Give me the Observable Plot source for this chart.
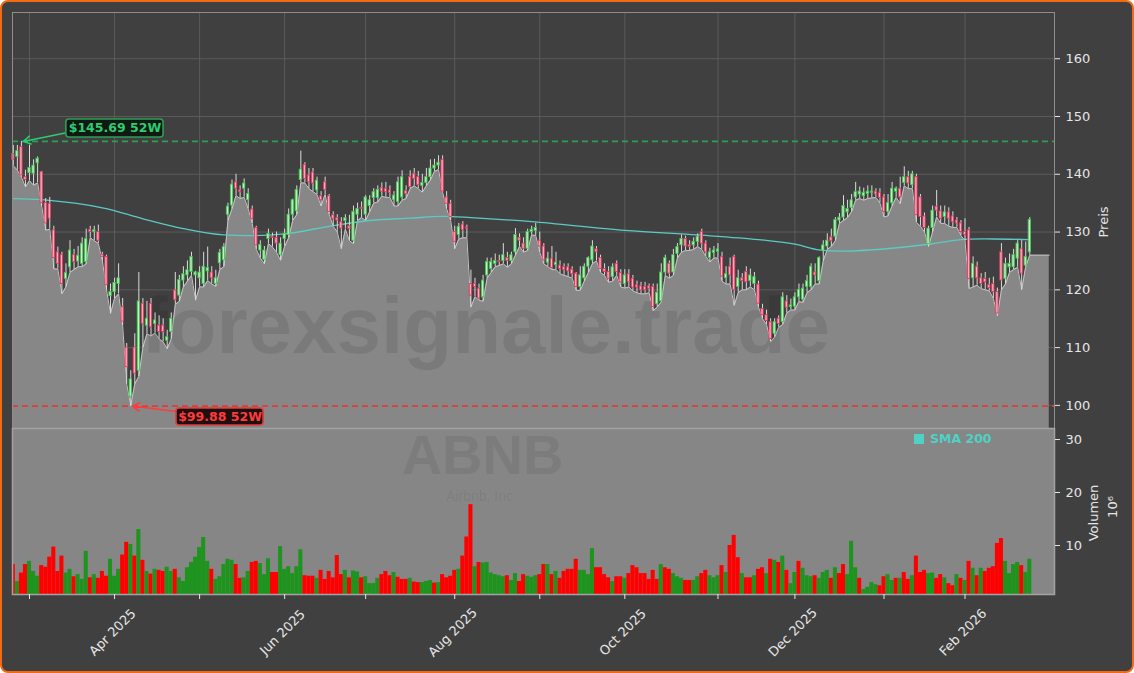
<!DOCTYPE html>
<html><head><meta charset="utf-8">
<script src="https://cdn.jsdelivr.net/npm/d3@7"></script>
<script src="https://cdn.jsdelivr.net/npm/@observablehq/plot@0.6"></script>
<style>
html,body{margin:0;padding:0;background:#ffffff;}
#frame{position:absolute;left:0;top:0;width:1134px;height:673px;box-sizing:border-box;border:2px solid #f26a12;border-radius:8px;background:#404040;}
#price,#volume{position:absolute;left:0;}
#price{top:0;}
#volume{top:428px;}
.lab{position:absolute;color:#e6e6e6;font:13px "DejaVu Sans",sans-serif;white-space:nowrap;transform:translate(-50%,-50%) rotate(-90deg);}
#sma{position:absolute;left:914px;top:431px;color:#4fd1c5;font:bold 12.5px "DejaVu Sans",sans-serif;white-space:nowrap;}
#sma span{display:inline-block;width:10px;height:10px;background:#4fd1c5;margin-right:6px;vertical-align:-1px;}
</style></head><body>
<div id="frame"></div>
<div id="price"></div>
<div id="volume"></div>
<div class="lab" style="left:1103px;top:222px;">Preis</div>
<div class="lab" style="left:1093px;top:513px;">Volumen</div>
<div class="lab" style="left:1112px;top:507px;">10⁶</div>
<div id="sma"><span></span>SMA 200</div>
<script>
// ---- Data (ABNB daily, index 0 = 2025-02-25 ... index 251 = 2026-02-25) ----
const open = [
143.5,143.0,144.7,139.5,140.2,140.1,141.9,140.4,135,134.9,
130.3,126.5,126,121.9,123.9,126,124.9,124.5,124.8,130.4,
130,130,126.1,125.7,118.9,119.6,121,117,110,101.5,
110,106,117.6,113.8,117.6,114.1,113.8,113.8,111.2,112.7,
119.9,119,121.6,122.5,123.1,122.5,122,121,123.2,123,
121,124.6,125.1,133,134.6,138.6,137.2,137.5,135.5,133.9,
130.7,126.8,125.2,128.8,129.2,129,126,128.8,129.5,133,
133.6,139,141.6,139.8,140.3,137.2,136.2,138.6,136.2,132.9,
132.4,131.7,131.9,131,128.5,133,134.2,133,134.5,135.9,
135.9,137.6,137.5,137.2,135.5,135.2,136,137.1,139.5,140.1,
139.5,138,138.5,139.5,141,141.5,142.5,136,134.9,130,
129.5,131.3,130.8,121,121,120.2,118.7,122.5,123.6,124.5,
125,125,125.5,125,126.5,129,128,127.1,130,130.2,
128.5,127.5,124.7,125.4,124.3,124.2,123.9,123.9,123.5,122.8,
120.5,122,124,125.1,127,125.5,123.6,123.1,122.2,124.5,
122.9,121,122.7,121.9,120.8,120.6,120.5,120.6,120.5,117.5,
118,123,124.5,123,126.2,127.7,128.8,127.7,127.7,128.3,
130,128,125.5,126.4,126.6,125.7,122,124,125.7,120.5,
122,123.1,121.5,121,120.9,116.7,115.6,114.4,112.4,115,
114.4,118,117,117.1,118.7,118.3,120.5,120.5,123,121.5,
126.8,127.5,129.1,129.2,132,132.5,133.4,134.2,136,136.5,
136.2,136.6,136.8,137,136.8,136,133.5,135,137,137.5,
138.5,139.5,138.1,139.5,136,132.7,127.9,130.7,134.4,133.6,
132.6,133.4,132.7,132,131.5,130,130.3,122,124,122,
121.9,120.8,121,119.6,126.5,121.9,123.9,123.9,125.4,127.1,
124.2,126.5];
const close = [
142.5,144.0,139.8,139.0,141.1,141.5,142.7,135,131.5,132.3,
125.5,124.5,121,122.9,126.8,124.8,125.9,128,128.8,130,
130.3,128.5,125.7,120.8,119.6,121.2,122,114.5,106.6,104.5,
105.5,118,114.1,115,113.5,114.7,112.7,112.7,111.8,115,
118.2,121.7,122.7,123.4,125.7,123,123,124,123.8,122,
122,126.4,127.4,134.4,138.2,137.5,136.9,138.4,136.6,132.3,
127.7,127.8,126.8,129.7,129,128,128,129.7,133,135.5,
137.3,140.8,139.2,138.6,138.4,138.9,135.5,137.3,133.5,132.3,
132,130.6,132.4,130.5,133.5,134,134,136,135.5,136.9,
137.3,137,136.9,136.8,136.3,138.6,139.5,136.6,137.8,139.2,
138.1,138.5,139.5,141,141.5,142,137,134.9,132.6,128.3,
130.9,130.3,130.6,119,120.5,118.5,121.6,124.8,124.8,125,
124.8,126,125,126,129.5,128.5,127.1,130,130.4,130.7,
127.5,125.1,125.4,123.8,124.7,123.6,123.4,123.2,122.7,120.5,
122.5,124,125.5,127.5,126.5,123.6,123.1,121.9,123.9,123.1,
121.3,122.5,121.3,120.4,120.4,119.9,119.9,120.2,117,119.5,
123,125.5,122.8,126,127.4,128.8,127.5,127.4,128.3,129.2,
128,126.5,126.5,126.8,127,122.3,122.7,122.5,120,122,
121.5,121.3,122.5,122.2,117.6,115.6,114.6,111.5,114.4,114.1,
118.7,116.9,117.3,118.7,120,120.2,121.5,124,122.5,125.5,
127.7,128.5,128.4,132.1,132.5,134.5,134,135.5,136.9,137,
136.8,137,137,136.5,135.9,133.5,135,137.5,137.5,136,
139.5,138.4,140,132.9,132.6,130.7,130.6,133.7,133.7,132.3,
133.4,132.3,131.7,131.5,130,129.5,121.9,124.5,122,121,
121.3,120.3,119.6,115.9,121.6,124.5,124.5,126,128,122.8,
125.7,132.1];
const high = [
145,145,145.69,140.7,145,142.5,143,140.5,135.8,136,
131,127.4,126.5,124.5,128.5,127,127.5,129,130.5,131,
131,131.2,126.5,126,121,122,124.5,118.5,110.7,106,
112.4,123,118.5,118,118.5,116,115.5,115,113,116,
123,122.5,124,125,126.5,123.2,124,126.5,127.4,124,
123.4,127,128,135,139,140,138,139.2,137.5,134.5,
131,128.5,127.5,130.5,129.8,130,129,130.5,134,135.7,
138,144,142,141,141,139.5,137,139.5,136.5,133.5,
133,132.5,133,132.9,134.5,135,135.2,136.3,136.3,137.5,
138,138.5,138.6,138,137,139.5,140.6,138,140.6,141,
140.5,140,141,142.5,142.6,143.2,143.2,137,135.5,131,
131.5,131.8,131.2,123.4,122,121,122.5,125.5,125.5,126.2,
126,128,126.5,126.5,130.6,129.7,129,130.5,131,131.5,
130,128,126.5,127.5,126.5,125,124.5,124.5,124,123,
124,124.5,125.7,128.5,127.5,126,124.5,124,124.5,125,
123.5,123.5,123.5,122.5,121.5,121.3,121.3,121,121,121,
124.5,126,125,127,128,129.5,129.3,128.5,129,129.7,
130.5,128.5,127.2,127.5,128,126.5,124,125.5,126,123.4,
122.8,124,123.6,123,121.5,117.5,116.5,115,115,115.5,
119.5,119,118.4,119.5,121,121,122.5,124.5,124.5,125.7,
128.5,129.7,130.5,132.5,133.2,136.3,135.5,136.5,138.6,137.8,
137.6,138,138,137.5,137.5,136.5,136.5,138.6,137.8,139.5,
141.3,140.5,140.5,140,136.5,133.3,131,134.5,137.2,134.5,
134.5,134.2,133.5,132.5,132,132.3,130.8,125.7,124.8,122.8,
123,122,122.2,120.3,128,125.5,126.2,127,128.5,128.5,
128.3,132.5];
const low = [
141.5,140.7,139.5,137.8,138.9,138.1,138.5,134.5,130.3,130.5,
123.6,123.6,119.3,120.5,123,123.5,124,124,124.5,129,
128.5,128,125,120,115.9,118.5,119.3,113.8,103.7,99.88,
103.7,105,110,112.4,112,112.5,111.5,111,109.8,111.5,
117.5,118,120.5,121.5,122.5,118.2,120.5,120.5,121.6,121,
120.6,123.5,124,132,134,136.3,135.8,136,134,131.5,
127,125.5,124.5,128,127.4,126.5,125.1,127.5,129,132,
133,138.5,138.5,137.5,137,136.5,134.5,136.5,133,131,
130,127.1,130.5,128.5,128,132,132.5,132,133.5,135,
135.2,136.2,136,136,134.5,134.5,135.5,135.8,137.5,138,
137.5,136.9,138,139,140.5,140.8,136.9,134,132,127.1,
128.8,129,129,117,118.8,118.2,118,122,123,124,
124.2,124.5,123.9,124.5,126,127.5,126.5,126.8,129.5,129.4,
126.5,124.5,124,123.5,123.5,122.8,122.5,122.3,122,119.9,
119.9,121.5,123,124.5,125,123,122.5,121.3,121.5,122.5,
120.5,120.3,120.5,119.8,119.5,119.3,119.3,119.5,116.4,117,
117.9,122.5,122,122.5,125.5,126.5,126.8,126.8,127,127.5,
127,125.8,124.8,125.5,125.5,121.5,121,121,117.3,119.5,
120,120,120.5,120,117,115,114,111,111.8,113.5,
114,116,116.5,116.5,118,117.8,119.5,120,121,121,
125,127,127.5,128.5,131.5,132,132.5,133.5,135.5,135.8,
135.5,135.8,135.9,136,135,132.6,132.8,134.5,136,134.9,
138,137.5,137.5,131.7,131,130,127.5,130,132.6,131.5,
131.5,131,130.8,130.8,129.4,128.5,120.2,120.5,120.8,120.2,
120,119.8,118.5,115.5,120,121,123,123.5,123.9,120,
124,126];
// volume in millions
const volume = [
6.4,3.2,4.8,6.4,7.0,5.1,4.2,6.2,5.9,7.8,
9.7,5.1,8.0,4.8,5.5,4.1,4.5,3.6,8.9,3.9,
4.5,3.8,5.1,4.2,7.4,4.2,5.5,8.2,10.6,10.2,
8.0,13.0,7.2,5.1,4.6,5.5,5.3,5.1,5.9,5.1,
5.5,3.9,3.2,5.8,6.8,7.8,9.6,11.5,7.0,5.5,
3.6,4.1,6.4,7.4,7.2,6.4,3.8,3.9,5.1,6.8,
7.0,6.6,4.5,7.5,4.9,4.9,9.8,5.5,6.0,4.7,
6.0,9.2,4.3,4.2,4.2,3.8,5.3,3.6,5.1,3.9,
8.1,4.5,5.3,3.9,5.2,5.0,3.9,4.1,2.8,2.8,
3.8,4.5,5.1,4.3,4.9,4.0,3.6,3.6,3.8,3.1,
3.0,3.0,3.2,3.4,2.9,3.0,4.5,3.9,4.2,5.3,
5.5,8.0,11.6,17.7,6.0,6.8,6.7,6.8,4.8,4.5,
4.3,4.1,4.3,3.4,4.7,3.2,4.5,4.2,4.0,4.3,
4.5,6.4,6.4,4.5,5.1,3.8,5.1,5.5,5.5,7.4,
5.3,5.3,4.5,9.4,5.8,5.8,4.5,3.9,3.2,4.1,
4.1,3.8,4.7,6.2,5.8,4.7,4.7,3.6,5.3,3.6,
6.4,5.8,5.5,4.7,4.1,3.8,3.4,3.4,3.4,4.1,
4.7,5.3,4.3,3.9,4.3,6.2,4.9,10.0,11.9,7.7,
4.7,3.9,3.9,4.3,5.5,5.8,4.7,7.4,7.2,6.8,
8.0,5.3,2.8,4.9,7.0,5.7,4.3,4.1,4.3,3.8,
4.9,5.3,3.8,5.8,4.7,6.4,4.5,10.8,5.8,3.8,
1.7,2.1,3.0,2.6,2.4,4.1,4.5,3.4,3.8,3.8,
4.9,3.6,4.3,8.0,4.9,5.3,4.7,4.8,3.8,4.5,
3.9,2.8,2.4,4.5,3.8,3.4,7.0,5.7,4.3,5.7,
5.1,5.7,6.0,10.4,11.3,7.0,4.7,6.4,6.8,6.2,
4.9,7.4];
// 1 = green (up) volume bar, 0 = red (down)
const volUp = [
0,1,0,0,1,1,1,0,0,0, 0,0,0,1,1,0,1,1,1,0, 1,0,0,0,1,1,1,0,0,1,
0,1,0,1,0,1,0,0,1,1, 0,1,1,1,1,1,1,1,1,0, 1,1,1,1,1,0,0,1,1,0,
0,1,1,1,0,0,1,1,1,1, 1,1,0,0,0,1,0,0,0,0, 0,0,1,0,1,1,0,1,1,1,
1,0,0,0,1,0,0,0,1,0, 0,1,1,1,0,1,0,0,0,0, 1,0,0,0,1,0,1,1,1,1,
1,1,0,1,1,0,0,1,1,1, 0,0,1,0,1,0,0,0,0,0, 1,1,1,1,0,0,0,0,1,0,
0,1,0,0,0,0,0,0,0,0, 1,0,0,1,1,1,0,0,1,1, 0,0,1,1,1,0,1,0,0,0,
1,0,0,1,0,0,1,0,1,0, 1,0,1,1,0,1,1,1,0,1, 1,1,0,1,0,0,1,1,1,0,
1,1,1,1,0,0,1,1,0,1, 0,0,1,0,0,0,1,1,0,0, 1,0,0,1,0,1,0,1,0,1,
0,0,0,0,0,1,1,1,1,0, 1,1];
// SMA 200 read at sample points
const smaIndex = [0,7,22,32,42,52,67,78,88,98,106,113,128,151,169,184,193,199,205,217,225,234,242,251];
const smaValue = [135.8,135.6,134.2,132.3,130.6,129.5,129.7,131.0,132.0,132.4,132.7,132.5,131.8,130.3,129.5,128.7,127.9,126.9,126.7,127.2,127.8,128.7,128.8,128.7];
// month starts (trading-day index) and labels
const monthIndex = [4,25,46,67,87,109,130,151,174,193,215,235];
const monthLabel = ["","Apr 2025","","Jun 2025","","Aug 2025","","Oct 2025","","Dec 2025","","Feb 2026"];
const priceTicks = [100,110,120,130,140,150,160];
const volumeTicks = [10,20,30];
const high52 = 145.69, low52 = 99.88;
const areaEndIndex = 255.8;

// ---- Layout / style ----
const xDomain = [-0.2, 257.1];
const upStroke = "#3ccc4c", upFill = "#cfe6cf";
const dnStroke = "#e23a60", dnFill = "#f1b0bd";
const txt = "#e6e6e6";
const baseStyle = {background: "transparent", color: txt, fontFamily: "DejaVu Sans, sans-serif", fontSize: "12.5px", overflow: "visible"};

const N = close.length;
const candles = d3.range(N).map(i => ({i, o: open[i], h: high[i], l: low[i], c: close[i]}));
const areaData = candles.map(d => ({i: d.i, v: d.l})).concat([{i: areaEndIndex, v: low[N - 1]}]);
const sma = smaIndex.map((i, k) => ({i, v: smaValue[k]}));
const vols = d3.range(N).map(i => ({i, v: volume[i], up: volUp[i]}));
const months = monthIndex.map((i, k) => ({i, label: monthLabel[k]})).filter(d => d.label);

const annotations = [
  {label: `$${high52.toFixed(2)} 52W`, value: high52, tipI: 2.5, tailI: 13.1, tailV: 147.2, bx1: 13.1, bx2: 37.1, by1: 146.37, by2: 149.48, color: "#2ecc71", line: "#2e9e56", bg: "#101a12"},
  {label: `$${low52.toFixed(2)} 52W`, value: low52, tipI: 29.4, tailI: 40.3, tailV: 98.96, bx1: 40.3, bx2: 61.8, by1: 96.52, by2: 99.46, color: "#ff3b3b", line: "#e03c3c", bg: "#1f1010"}
];

const price = Plot.plot({
  width: 1134, height: 428,
  marginTop: 12, marginBottom: 0, marginLeft: 12, marginRight: 80,
  style: baseStyle,
  x: {domain: xDomain, axis: null},
  y: {domain: [96, 168], axis: null},
  marks: [
    Plot.ruleY(priceTicks, {stroke: "#5e5e5e", strokeWidth: 0.9}),
    Plot.ruleX(monthIndex, {stroke: "#5e5e5e", strokeWidth: 0.9}),
    Plot.areaY(areaData, {x: "i", y: "v", fill: "#878787", clip: true}),
    Plot.lineY(areaData, {x: "i", y: "v", stroke: "#c4c4c4", strokeWidth: 1}),
    Plot.text(["forexsignale.trade"], {frameAnchor: "middle", dx: -48, dy: 107, fontSize: 80, fontWeight: "bold", fontFamily: "Liberation Sans, Arial, sans-serif", fill: "#000", fillOpacity: 0.09}),
    Plot.line(sma, {x: "i", y: "v", stroke: "#5ccac2", strokeWidth: 1.3, curve: "catmull-rom"}),
    Plot.ruleY(annotations, {y: "value", stroke: "line", strokeWidth: 1.6, strokeDasharray: "6,4"}),
    Plot.ruleX(candles, {x: "i", y1: "l", y2: "h", stroke: "#dadada", strokeWidth: 1}),
    Plot.rect(candles, {x1: d => d.i - 0.28, x2: d => d.i + 0.28, y1: "o", y2: "c",
      fill: d => d.c >= d.o ? upFill : dnFill, stroke: d => d.c >= d.o ? upStroke : dnStroke, strokeWidth: 0.9}),
    Plot.arrow(annotations, {x1: "tailI", y1: "tailV", x2: "tipI", y2: "value", stroke: "color", strokeWidth: 1.5, headLength: 8}),
    Plot.rect(annotations, {x1: "bx1", x2: "bx2", y1: "by1", y2: "by2", fill: "bg", stroke: "line", strokeWidth: 1.6, rx: 3}),
    Plot.text(annotations, {x: d => (d.bx1 + d.bx2) / 2, y: d => (d.by1 + d.by2) / 2, text: "label", fill: "color", fontWeight: "bold", fontSize: 12.5}),
    Plot.frame({stroke: "#8e8e8e"}),
    Plot.axisY(priceTicks, {anchor: "right", tickSize: 5, tickPadding: 6, label: null, fontSize: 13})
  ]
});
document.getElementById("price").append(price);

const vol = Plot.plot({
  width: 1134, height: 245,
  marginTop: 0, marginBottom: 79, marginLeft: 12, marginRight: 80,
  style: baseStyle,
  x: {domain: xDomain, axis: null},
  y: {domain: [0.75, 32.08], axis: null},
  marks: [
    Plot.frame({fill: "#868686"}),
    Plot.text(["ABNB"], {frameAnchor: "middle", dx: -51, dy: -55, fontSize: 56, fontWeight: "bold", fontFamily: "Liberation Sans, Arial, sans-serif", fill: "#000", fillOpacity: 0.07}),
    Plot.text(["Airbnb, Inc."], {frameAnchor: "middle", dx: -52, dy: -15, fontSize: 14, fontFamily: "Liberation Sans, Arial, sans-serif", fill: "#000", fillOpacity: 0.07}),
    Plot.rect(vols, {x1: d => d.i - 0.5, x2: d => d.i + 0.5, y1: 0, y2: "v", fill: d => d.up ? "#1e941e" : "#ff0000", clip: true}),
    Plot.frame({stroke: "#a3a3a3", strokeWidth: 1.5}),
    Plot.axisY(volumeTicks, {anchor: "right", tickSize: 5, tickPadding: 6, label: null, fontSize: 13}),
    Plot.axisX(monthIndex, {anchor: "bottom", tickSize: 5, tickFormat: () => "", label: null}),
    Plot.text(months, {x: "i", text: "label", frameAnchor: "bottom", dx: -2, dy: 38, rotate: -45, textAnchor: "middle", lineAnchor: "middle", fontSize: 13, fill: txt})
  ]
});
document.getElementById("volume").append(vol);
</script>
</body></html>
